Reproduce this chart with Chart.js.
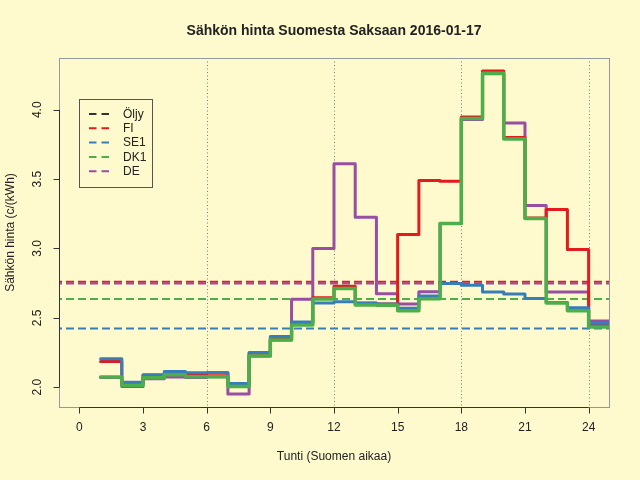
<!DOCTYPE html>
<html>
<head>
<meta charset="utf-8">
<script src="https://cdn.jsdelivr.net/npm/chart.js@4.4.0/dist/chart.umd.min.js"></script>
<style>
  html, body { margin: 0; padding: 0; background: #fffacd; }
  #chart { display: block; }
</style>
</head>
<body>
<canvas id="chart" width="640" height="480" style="width:640px;height:480px"></canvas>
<script>
// hourly prices, c/kWh, hours 1..24 (Finnish time)
const hours = [1, 2, 3, 4, 5, 6, 7, 8, 9, 10, 11, 12, 13, 14, 15, 16, 17, 18, 19, 20, 21, 22, 23, 24];
const fi  = [2.185, 2.03, 2.085, 2.10, 2.095, 2.10, 2.018, 2.245, 2.355, 2.465, 2.645, 2.727, 2.604, 2.60, 3.10, 3.49, 3.485, 3.948, 4.28, 3.80, 3.22, 3.28, 2.993, 2.45];
const se1 = [2.205, 2.036, 2.09, 2.113, 2.103, 2.106, 2.026, 2.25, 2.365, 2.47, 2.606, 2.616, 2.606, 2.60, 2.568, 2.657, 2.748, 2.734, 2.686, 2.672, 2.64, 2.61, 2.573, 2.46];
const dk1 = [2.074, 2.014, 2.067, 2.09, 2.075, 2.075, 2.005, 2.225, 2.34, 2.448, 2.635, 2.712, 2.592, 2.59, 2.55, 2.638, 3.18, 3.937, 4.264, 3.79, 3.216, 2.606, 2.55, 2.434];
const de  = [2.07, 2.005, 2.06, 2.074, 2.07, 2.075, 1.95, 2.225, 2.34, 2.633, 3.00, 3.61, 3.225, 2.674, 2.60, 2.688, 3.18, 3.93, 4.26, 3.905, 3.31, 2.686, 2.686, 2.477];
const oil = [];  // no oil values shown in this chart

// daily means (dashed lines)
const meanFI = 2.759;
const meanDE = 2.747;
const meanDK1 = 2.635;
const meanSE1 = 2.422;

const xTicks = [0, 3, 6, 9, 12, 15, 18, 21, 24];
const yTicks = [2.0, 2.5, 3.0, 3.5, 4.0];
const vLines = [6, 12, 18, 24];

const legendNames = ['Öljy', 'FI', 'SE1', 'DK1', 'DE'];
const legendColors = ['#333333', '#e41a1c', '#377eb8', '#4daf4a', '#984ea3'];

const FONT = '"Liberation Sans", Arial, sans-serif';
const TEXT = '#222222';

// step points: each hour's value holds until the next hour
function steps(vals) {
    const pts = hours.map((h, i) => ({ x: h, y: vals[i] }));
    if (vals.length) pts.push({ x: hours[hours.length - 1] + 1, y: vals[vals.length - 1] });
    return pts;
}

// R style axis limits: data range plus 4 %
const xLo = 0, xHi = 24;
const allY = fi.concat(se1, dk1, de);
const yLo = Math.min(...allY), yHi = Math.max(...allY);
const xPad = (xHi - xLo) * 0.04, yPad = (yHi - yLo) * 0.04;

function line(label, vals, color, width, order) {
    return {
        label: label,
        data: steps(vals),
        borderColor: color,
        borderWidth: width,
        stepped: 'before',
        pointRadius: 0,
        fill: false,
        borderCapStyle: 'round',
        borderJoinStyle: 'round',
        order: order,
        clip: 0
    };
}

const rPlot = {
    id: 'rPlot',
    beforeDraw(chart) {
        const ctx = chart.ctx;
        ctx.save();
        ctx.fillStyle = '#fffacd';
        ctx.fillRect(0, 0, chart.width, chart.height);
        ctx.restore();
    },
    beforeDatasetsDraw(chart) {
        const { ctx, chartArea: a, scales: { x, y } } = chart;
        ctx.save();
        ctx.beginPath();
        ctx.rect(a.left, a.top, a.right - a.left, a.bottom - a.top);
        ctx.clip();
        // dotted verticals every 6 hours
        ctx.strokeStyle = '#7a7a7a';
        ctx.lineWidth = 1;
        ctx.setLineDash([1, 2.5]);
        vLines.forEach(v => {
            const px = Math.round(x.getPixelForValue(v)) + 0.5;
            ctx.beginPath();
            ctx.moveTo(px, a.top);
            ctx.lineTo(px, a.bottom);
            ctx.stroke();
        });
        // mean lines
        ctx.lineWidth = 2;
        ctx.setLineDash([8, 4]);
        [[meanFI, '#e41a1c'], [meanDE, '#984ea3'], [meanDK1, '#4daf4a'], [meanSE1, '#377eb8']].forEach(([m, c]) => {
            const py = y.getPixelForValue(m);
            ctx.strokeStyle = c;
            ctx.beginPath();
            ctx.moveTo(a.left - 5, py);
            ctx.lineTo(a.right, py);
            ctx.stroke();
        });
        ctx.restore();
    },
    afterDraw(chart) {
        const { ctx, chartArea: a, scales: { x, y } } = chart;
        ctx.save();
        // box
        ctx.strokeStyle = '#999999';
        ctx.lineWidth = 1;
        ctx.strokeRect(Math.round(a.left) + 0.5, Math.round(a.top) + 0.5,
                       Math.round(a.right - a.left), Math.round(a.bottom - a.top));
        // axes
        ctx.strokeStyle = '#333333';
        const by = Math.round(a.bottom) + 0.5;
        const lx = Math.round(a.left) + 0.5;
        ctx.beginPath();
        ctx.moveTo(x.getPixelForValue(xTicks[0]), by);
        ctx.lineTo(x.getPixelForValue(xTicks[xTicks.length - 1]), by);
        xTicks.forEach(t => {
            const px = Math.round(x.getPixelForValue(t)) + 0.5;
            ctx.moveTo(px, by);
            ctx.lineTo(px, by + 6);
        });
        ctx.moveTo(lx, y.getPixelForValue(yTicks[0]));
        ctx.lineTo(lx, y.getPixelForValue(yTicks[yTicks.length - 1]));
        yTicks.forEach(t => {
            const py = Math.round(y.getPixelForValue(t)) + 0.5;
            ctx.moveTo(lx, py);
            ctx.lineTo(lx - 6, py);
        });
        ctx.stroke();

        // tick labels
        ctx.fillStyle = TEXT;
        ctx.font = '12px ' + FONT;
        ctx.textAlign = 'center';
        ctx.textBaseline = 'middle';
        xTicks.forEach(t => ctx.fillText(String(t), x.getPixelForValue(t), 428));
        yTicks.forEach(t => {
            ctx.save();
            ctx.translate(38, y.getPixelForValue(t));
            ctx.rotate(-Math.PI / 2);
            ctx.fillText(t.toFixed(1), 0, 0);
            ctx.restore();
        });

        // axis titles
        ctx.fillText('Tunti (Suomen aikaa)', (a.left + a.right) / 2, 457);
        ctx.save();
        ctx.translate(11, (a.top + a.bottom) / 2);
        ctx.rotate(-Math.PI / 2);
        ctx.fillText('Sähkön hinta (c/(kWh)', 0, 0);
        ctx.restore();

        // main title
        ctx.font = 'bold 14px ' + FONT;
        ctx.fillText('Sähkön hinta Suomesta Saksaan 2016-01-17', (a.left + a.right) / 2, 31);

        // legend
        ctx.fillStyle = '#fffacd';
        ctx.fillRect(79.5, 99.5, 73, 88);
        ctx.strokeStyle = '#555555';
        ctx.lineWidth = 1;
        ctx.setLineDash([]);
        ctx.strokeRect(79.5, 99.5, 73, 88);
        ctx.font = '12px ' + FONT;
        ctx.textAlign = 'left';
        legendNames.forEach((name, i) => {
            const ly = 114 + i * 14.3;
            ctx.strokeStyle = legendColors[i];
            ctx.lineWidth = 2;
            ctx.setLineDash([7.5, 5]);
            ctx.beginPath();
            ctx.moveTo(89, ly);
            ctx.lineTo(109, ly);
            ctx.stroke();
            ctx.fillStyle = TEXT;
            ctx.fillText(name, 123, ly + 0.5);
        });
        ctx.restore();
    }
};

new Chart(document.getElementById('chart'), {
    type: 'line',
    data: {
        datasets: [
            line('Öljy', oil, '#333333', 3, 5),
            line('FI', fi, '#e41a1c', 3, 3),
            line('SE1', se1, '#377eb8', 3, 2),
            line('DK1', dk1, '#4daf4a', 3.5, 1),
            line('DE', de, '#984ea3', 3, 4)
        ]
    },
    options: {
        responsive: false,
        animation: false,
        devicePixelRatio: 1,
        layout: { padding: { left: 59, right: 31, top: 58, bottom: 73 } },
        plugins: { legend: { display: false }, tooltip: { enabled: false }, title: { display: false } },
        scales: {
            x: { type: 'linear', min: xLo - xPad, max: xHi + xPad, display: false },
            y: { type: 'linear', min: yLo - yPad, max: yHi + yPad, display: false }
        }
    },
    plugins: [rPlot]
});
</script>
</body>
</html>
